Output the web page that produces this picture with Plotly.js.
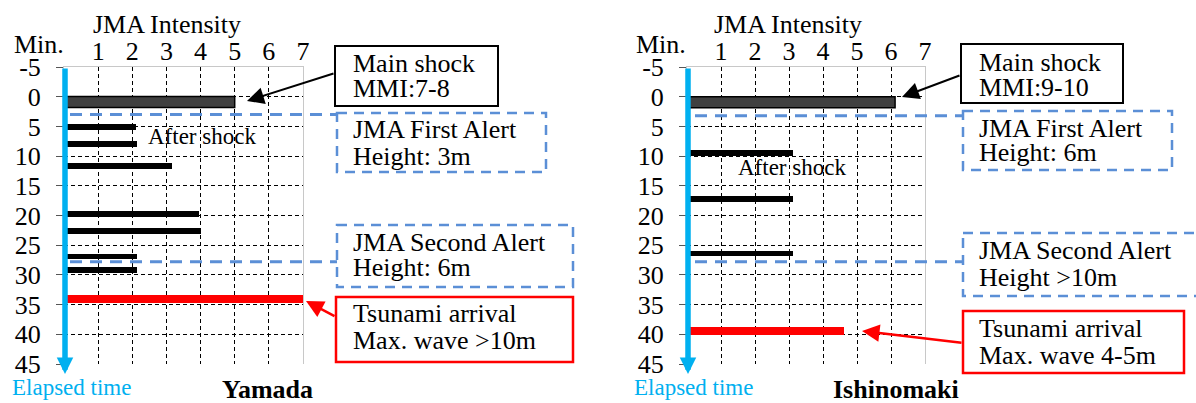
<!DOCTYPE html>
<html>
<head>
<meta charset="utf-8">
<script src="https://cdn.plot.ly/plotly-3.0.1.min.js"></script>
<style>html,body{margin:0;padding:0;background:#fff;}#chart{width:1196px;height:403px;}</style>
</head>
<body>
<div id="chart"></div>
<script>
// ---------- data ----------
const intensityTicks = [1, 2, 3, 4, 5, 6, 7];
const timeTicks = [-5, 0, 5, 10, 15, 20, 25, 30, 35, 40, 45];

// Yamada
const yamadaMainTime = [0.9];
const yamadaMainIntensity = [5.0];
const yamadaAfterTimes = [5.1, 8.0, 11.6, 19.7, 22.6, 26.9, 29.2];
const yamadaAfterIntensity = [2.1, 2.15, 3.15, 3.95, 4.0, 2.15, 2.15];
const yamadaTsunamiTime = [34.1];
const yamadaTsunamiIntensity = [7];
const yamadaAlertTimes = [3.0, 27.8];
const yamadaBoxText = ["Main shock", "MMI:7-8", "JMA First Alert", "Height: 3m",
                       "JMA Second Alert", "Height: 6m", "Tsunami arrival", "Max. wave >10m"];

// Ishinomaki
const ishiMainTime = [0.93];
const ishiMainIntensity = [6.12];
const ishiAfterTimes = [9.4, 17.2, 26.4];
const ishiAfterIntensity = [3.13, 3.13, 3.13];
const ishiTsunamiTime = [39.5];
const ishiTsunamiIntensity = [4.62];
const ishiAlertTimes = [3.2, 27.8];
const ishiBoxText = ["Main shock", "MMI:9-10", "JMA First Alert", "Height: 6m",
                     "JMA Second Alert", "Height >10m", "Tsunami arrival", "Max. wave 4-5m"];

const placeNames = ["Yamada", "Ishinomaki"];

// ---------- layout helpers ----------
const W = 1196, H = 403;
const px = v => v / W;
const py = v => 1 - v / H;
const FONT = 'Liberation Serif, Times New Roman, serif';
const BLUE = '#00B0F0';
const ALERT = '#5B8FD6';
const RED = '#FF0000';

function barTrace(x, y, w, color, xa, ya, line) {
  return {
    type: 'bar', orientation: 'h', x: x, y: y, width: y.map(() => w),
    marker: {color: color, line: line || {width: 0}},
    xaxis: xa, yaxis: ya, hoverinfo: 'skip', showlegend: false
  };
}

const traces = [
  barTrace(yamadaMainIntensity, yamadaMainTime, 1.85, '#404040', 'x', 'y', {color: '#000', width: 1.5}),
  barTrace(yamadaAfterIntensity, yamadaAfterTimes, 1.0, '#000000', 'x', 'y'),
  barTrace(yamadaTsunamiIntensity, yamadaTsunamiTime, 1.35, RED, 'x', 'y'),
  barTrace(ishiMainIntensity, ishiMainTime, 1.85, '#404040', 'x2', 'y2', {color: '#000', width: 1.5}),
  barTrace(ishiAfterIntensity, ishiAfterTimes, 1.0, '#000000', 'x2', 'y2'),
  barTrace(ishiTsunamiIntensity, ishiTsunamiTime, 1.35, RED, 'x2', 'y2')
];

const yDomain = [py(364), py(67)];

function xAxis(domain, anchor) {
  return {
    domain: domain, anchor: anchor, side: 'top', range: [0, 7],
    tickmode: 'array', tickvals: intensityTicks, ticktext: intensityTicks.map(String),
    ticks: '', showgrid: true, gridcolor: '#000', gridwidth: 1, griddash: '4px,3px',
    zeroline: false, showline: true, linecolor: '#c8c8c8', linewidth: 1, mirror: false,
    tickfont: {family: FONT, size: 26, color: '#000'}, ticklabelstandoff: -4,
    automargin: false, fixedrange: true
  };
}
function yAxis(anchor) {
  return {
    domain: yDomain, anchor: anchor, range: [45, -5],
    tickmode: 'array', tickvals: timeTicks, ticktext: timeTicks.map(String),
    ticks: 'outside', ticklen: 7, tickcolor: '#555', tickwidth: 1,
    showgrid: true, gridcolor: '#000', gridwidth: 1, griddash: '4px,3px',
    zeroline: false, showline: true, linecolor: '#c8c8c8', linewidth: 1, mirror: true,
    tickfont: {family: FONT, size: 26, color: '#000'}, ticklabelstandoff: 10,
    automargin: false, fixedrange: true
  };
}

const shapes = [];
const annotations = [];

function rect(x0, y0, x1, y1, color, width, dash) {
  shapes.push({type: 'rect', xref: 'paper', yref: 'paper',
    x0: px(x0), x1: px(x1), y0: py(y0), y1: py(y1),
    line: {color: color, width: width, dash: dash || 'solid'}, fillcolor: 'rgba(0,0,0,0)'});
}
function text(x, y, t, opts) {
  annotations.push(Object.assign({xref: 'paper', yref: 'paper', x: px(x), y: py(y), text: t,
    showarrow: false, xanchor: 'left', yanchor: 'middle',
    font: {family: FONT, size: 26, color: '#000'}}, opts || {}));
}
function arrow(tipX, tipY, tailX, tailY, color, width, size, head) {
  annotations.push({xref: 'paper', yref: 'paper', x: px(tipX), y: py(tipY), text: '',
    showarrow: true, ax: tailX - tipX, ay: tailY - tipY, axref: 'pixel', ayref: 'pixel',
    arrowcolor: color, arrowwidth: width, arrowsize: size, arrowhead: head || 2, standoff: 0});
}

// ---- panel configs (pixel layout) ----
const panels = [
  {ya: 'y', left: 64, alerts: yamadaAlertTimes, lineStart: 70, boxLeft: 337, txtX: 351,
   boxText: yamadaBoxText, name: placeNames[0], nameX: 267, titleX: 167, minX: 39,
   afterX: 202, afterY: 136,
   boxes: [[335, 46, 498, 106], [337, 113, 546, 172], [337, 225, 573, 287], [336, 297, 573, 362]],
   textY: [63, 88, 130, 156, 242, 267, 313, 340],
   mainArrow: [247, 101, 335, 73], redArrow: [306, 301, 336, 317]},
  {ya: 'y2', left: 687, alerts: ishiAlertTimes, lineStart: 695, boxLeft: 963, txtX: 977,
   boxText: ishiBoxText, name: placeNames[1], nameX: 896, titleX: 788, minX: 661,
   afterX: 792, afterY: 168,
   boxes: [[961, 44, 1123, 103], [963, 111, 1172, 170], [963, 233, 1205, 296], [963, 311, 1184, 373]],
   textY: [62, 87, 128, 153, 250, 277, 328, 355],
   mainArrow: [902, 97, 961, 75], redArrow: [862, 331, 963, 343]}
];

panels.forEach(p => {
  p.alerts.forEach(t => {
    shapes.push({type: 'line', xref: 'paper', yref: p.ya, x0: px(p.lineStart), x1: px(p.boxLeft),
      y0: t, y1: t, line: {color: ALERT, width: 3, dash: '12px,8px'}});
  });
  rect(...p.boxes[0], '#000', 2);
  rect(...p.boxes[1], ALERT, 2.5, '10px,7px');
  rect(...p.boxes[2], ALERT, 2.5, '10px,7px');
  rect(...p.boxes[3], RED, 2.5);
  p.boxText.forEach((t, i) => text(p.txtX, p.textY[i], t));
  arrow(...p.mainArrow, '#000', 2, 1.7);
  arrow(...p.redArrow, RED, 2.5, 1.4);
  arrow(p.left + 1, 374, p.left + 1, 67, BLUE, 5.5, 0.6);
  text(p.titleX, 24, 'JMA Intensity', {xanchor: 'center'});
  text(p.minX, 44, 'Min.', {xanchor: 'center'});
  text(p.afterX, p.afterY, 'After shock', {xanchor: 'center', font: {family: FONT, size: 23, color: '#000'}});
  text(p.left + 7, 387, 'Elapsed time', {xanchor: 'center', font: {family: FONT, size: 23, color: BLUE}});
  text(p.nameX, 389, '<b>' + p.name + '</b>', {xanchor: 'center', font: {family: FONT, size: 26, color: '#000'}});
});

const layout = {
  width: W, height: H,
  margin: {l: 0, r: 0, t: 0, b: 0, pad: 0},
  paper_bgcolor: '#fff', plot_bgcolor: '#fff',
  barmode: 'overlay', bargap: 0,
  showlegend: false,
  xaxis: xAxis([px(64), px(303)], 'y'),
  yaxis: yAxis('x'),
  xaxis2: xAxis([px(687), px(925)], 'y2'),
  yaxis2: yAxis('x2'),
  shapes: shapes,
  annotations: annotations
};

Plotly.newPlot('chart', traces, layout, {displayModeBar: false, staticPlot: true});
</script>
</body>
</html>
